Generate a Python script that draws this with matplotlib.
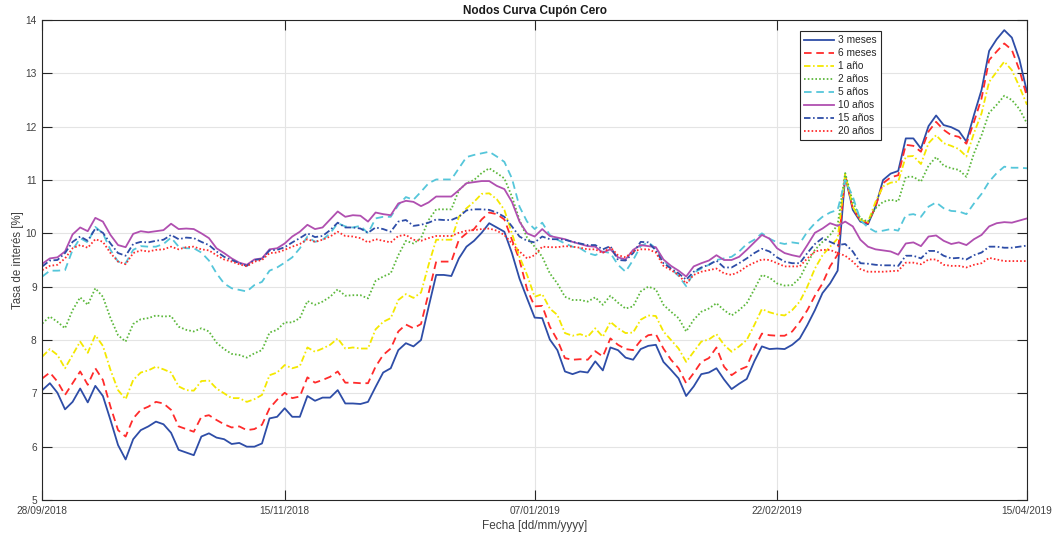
import numpy as np
import matplotlib
matplotlib.use("Agg")
import matplotlib.pyplot as plt

plt.rcParams['font.family'] = ['Liberation Sans', 'DejaVu Sans']

# Tick dates (observation index -> label)
tick_idx = [0, 32, 65, 97, 130]
tick_labels = ['28/09/2018', '15/11/2018', '07/01/2019', '22/02/2019', '15/04/2019']

# Zero-coupon curve nodes, daily observations [%]
m3 = [7.06, 7.19, 7.01, 6.70, 6.84, 7.09, 6.83, 7.14, 6.95, 6.50, 6.03, 5.76, 6.14, 6.31, 6.38, 6.47, 6.42,
      6.26, 5.94, 5.89, 5.84, 6.19, 6.25, 6.17, 6.14, 6.05, 6.07, 6.00, 6.00, 6.06, 6.53, 6.56, 6.72,
      6.56, 6.56, 6.95, 6.86, 6.92, 6.92, 7.06, 6.81, 6.81, 6.80, 6.84, 7.12, 7.39, 7.47, 7.81, 7.94,
      7.88, 8.00, 8.62, 9.22, 9.22, 9.20, 9.53, 9.75, 9.86, 10.01, 10.19, 10.11, 10.03, 9.63, 9.15, 8.78,
      8.42, 8.41, 8.01, 7.81, 7.41, 7.36, 7.41, 7.39, 7.60, 7.43, 7.86, 7.81, 7.67, 7.63, 7.83, 7.89,
      7.91, 7.59, 7.44, 7.28, 6.95, 7.13, 7.36, 7.39, 7.47, 7.26, 7.08, 7.18, 7.27, 7.60, 7.88, 7.83,
      7.84, 7.83, 7.91, 8.03, 8.28, 8.56, 8.88, 9.06, 9.30, 11.08, 10.44, 10.22, 10.17, 10.50, 11.00, 11.12,
      11.17, 11.78, 11.78, 11.59, 12.01, 12.21, 12.03, 11.99, 11.92, 11.72, 12.22, 12.69, 13.42, 13.64, 13.81, 13.67, 13.26, 12.65]

m6 = [7.28, 7.39, 7.22, 6.97, 7.19, 7.41, 7.16, 7.47, 7.25, 6.75, 6.31, 6.19, 6.53, 6.69, 6.75, 6.84, 6.81,
      6.69, 6.38, 6.33, 6.28, 6.56, 6.59, 6.50, 6.42, 6.36, 6.38, 6.31, 6.33, 6.41, 6.72, 6.88, 7.01,
      6.91, 6.94, 7.30, 7.20, 7.25, 7.31, 7.41, 7.20, 7.20, 7.19, 7.19, 7.50, 7.72, 7.84, 8.16, 8.29,
      8.22, 8.30, 8.88, 9.47, 9.47, 9.47, 9.88, 10.00, 10.08, 10.26, 10.39, 10.36, 10.26, 9.88, 9.50, 8.95,
      8.63, 8.64, 8.25, 8.00, 7.66, 7.63, 7.64, 7.63, 7.79, 7.69, 8.03, 7.91, 7.83, 7.81, 7.99, 8.09,
      8.11, 7.84, 7.63, 7.47, 7.19, 7.38, 7.59, 7.66, 7.86, 7.50, 7.34, 7.44, 7.50, 7.84, 8.12, 8.09,
      8.08, 8.08, 8.16, 8.34, 8.56, 8.83, 9.06, 9.38, 9.60, 11.09, 10.47, 10.25, 10.19, 10.50, 10.94, 11.05,
      11.09, 11.66, 11.64, 11.53, 11.91, 12.09, 11.94, 11.84, 11.81, 11.68, 12.09, 12.53, 13.25, 13.41, 13.56, 13.44, 13.06, 12.56]

y1 = [7.69, 7.83, 7.72, 7.47, 7.72, 7.97, 7.76, 8.09, 7.89, 7.44, 7.06, 6.89, 7.25, 7.39, 7.43, 7.50, 7.45,
      7.39, 7.13, 7.06, 7.05, 7.23, 7.24, 7.09, 7.00, 6.91, 6.91, 6.84, 6.89, 6.97, 7.34, 7.39, 7.53,
      7.47, 7.51, 7.86, 7.78, 7.84, 7.91, 8.03, 7.84, 7.86, 7.84, 7.84, 8.20, 8.34, 8.41, 8.75, 8.86,
      8.79, 8.89, 9.41, 9.88, 9.88, 9.88, 10.31, 10.47, 10.59, 10.74, 10.75, 10.64, 10.44, 10.00, 9.56, 9.22,
      8.81, 8.86, 8.59, 8.47, 8.13, 8.08, 8.11, 8.06, 8.22, 8.06, 8.34, 8.22, 8.13, 8.14, 8.38, 8.46,
      8.45, 8.16, 8.00, 7.84, 7.59, 7.78, 7.97, 8.01, 8.11, 7.91, 7.78, 7.88, 8.00, 8.28, 8.58, 8.52,
      8.48, 8.46, 8.56, 8.72, 9.00, 9.34, 9.59, 9.75, 9.90, 11.11, 10.50, 10.25, 10.21, 10.59, 10.88, 10.95,
      10.97, 11.44, 11.45, 11.30, 11.69, 11.84, 11.69, 11.64, 11.58, 11.44, 11.88, 12.25, 12.84, 13.03, 13.22, 13.06, 12.75, 12.41]

y2 = [8.31, 8.44, 8.34, 8.22, 8.56, 8.80, 8.66, 8.97, 8.81, 8.41, 8.09, 7.97, 8.30, 8.39, 8.41, 8.46, 8.44,
      8.45, 8.25, 8.19, 8.16, 8.22, 8.16, 7.95, 7.83, 7.74, 7.72, 7.67, 7.75, 7.81, 8.14, 8.19, 8.33,
      8.33, 8.41, 8.73, 8.66, 8.72, 8.81, 8.95, 8.83, 8.84, 8.84, 8.78, 9.11, 9.19, 9.25, 9.59, 9.86,
      9.81, 9.91, 10.25, 10.45, 10.45, 10.45, 10.81, 10.94, 11.00, 11.13, 11.22, 11.13, 11.03, 10.69, 10.25, 9.92,
      9.75, 9.56, 9.25, 9.06, 8.81, 8.75, 8.75, 8.72, 8.80, 8.66, 8.83, 8.70, 8.59, 8.63, 8.91, 9.00,
      8.95, 8.66, 8.53, 8.41, 8.16, 8.38, 8.53, 8.59, 8.69, 8.56, 8.46, 8.56, 8.69, 8.95, 9.22, 9.17,
      9.06, 9.02, 9.03, 9.16, 9.44, 9.69, 9.84, 9.97, 10.16, 11.13, 10.59, 10.28, 10.22, 10.47, 10.59, 10.63,
      10.60, 11.06, 11.06, 10.97, 11.27, 11.43, 11.27, 11.22, 11.19, 11.06, 11.50, 11.84, 12.26, 12.41, 12.58, 12.50, 12.33, 12.06]

y5 = [9.19, 9.30, 9.30, 9.31, 9.69, 9.91, 9.83, 10.12, 10.00, 9.69, 9.47, 9.44, 9.69, 9.76, 9.75, 9.75, 9.80,
      9.92, 9.75, 9.72, 9.72, 9.64, 9.49, 9.25, 9.06, 8.97, 8.94, 8.91, 9.03, 9.09, 9.30, 9.36, 9.45,
      9.55, 9.72, 9.94, 9.84, 9.88, 10.00, 10.19, 10.13, 10.11, 10.14, 10.00, 10.28, 10.31, 10.31, 10.53, 10.68,
      10.63, 10.78, 10.94, 11.01, 11.01, 11.01, 11.22, 11.43, 11.47, 11.50, 11.53, 11.44, 11.34, 11.03, 10.50, 10.22,
      10.08, 10.20, 9.97, 9.88, 9.81, 9.75, 9.72, 9.63, 9.59, 9.66, 9.63, 9.41, 9.28, 9.50, 9.76, 9.83,
      9.72, 9.50, 9.34, 9.20, 9.01, 9.26, 9.34, 9.41, 9.50, 9.53, 9.56, 9.66, 9.80, 9.88, 10.00, 9.90,
      9.83, 9.80, 9.83, 9.81, 10.03, 10.19, 10.31, 10.39, 10.44, 11.00, 10.69, 10.25, 10.11, 10.03, 10.05, 10.08,
      10.05, 10.34, 10.36, 10.31, 10.50, 10.58, 10.47, 10.42, 10.41, 10.36, 10.56, 10.74, 10.97, 11.13, 11.25, 11.23, 11.23, 11.22]

y10 = [9.43, 9.53, 9.55, 9.66, 9.98, 10.11, 10.04, 10.29, 10.22, 9.97, 9.78, 9.74, 9.99, 10.04, 10.02, 10.04, 10.06,
       10.18, 10.08, 10.09, 10.08, 10.00, 9.91, 9.72, 9.63, 9.53, 9.45, 9.41, 9.51, 9.53, 9.70, 9.72, 9.81,
       9.94, 10.03, 10.16, 10.08, 10.11, 10.26, 10.41, 10.31, 10.34, 10.33, 10.22, 10.39, 10.36, 10.34, 10.56, 10.61,
       10.59, 10.51, 10.58, 10.69, 10.69, 10.69, 10.81, 10.94, 10.96, 10.98, 10.98, 10.89, 10.83, 10.59, 10.22, 10.00,
       9.94, 10.08, 9.95, 9.92, 9.89, 9.84, 9.80, 9.76, 9.75, 9.64, 9.70, 9.55, 9.51, 9.69, 9.78, 9.76,
       9.74, 9.51, 9.39, 9.30, 9.19, 9.38, 9.44, 9.49, 9.59, 9.50, 9.50, 9.56, 9.69, 9.83, 9.97, 9.90,
       9.72, 9.63, 9.59, 9.56, 9.78, 10.01, 10.09, 10.19, 10.14, 10.22, 10.13, 9.88, 9.75, 9.70, 9.68, 9.66,
       9.60, 9.81, 9.83, 9.76, 9.94, 9.96, 9.86, 9.80, 9.83, 9.78, 9.89, 9.97, 10.13, 10.19, 10.21, 10.20, 10.24, 10.28]

y15 = [9.38, 9.49, 9.50, 9.63, 9.84, 9.94, 9.86, 10.09, 10.01, 9.81, 9.63, 9.58, 9.80, 9.84, 9.83, 9.86, 9.88,
       9.97, 9.89, 9.92, 9.91, 9.84, 9.78, 9.66, 9.56, 9.50, 9.44, 9.39, 9.50, 9.52, 9.68, 9.69, 9.74,
       9.83, 9.91, 10.00, 9.93, 9.95, 10.06, 10.20, 10.11, 10.11, 10.09, 10.01, 10.11, 10.08, 10.03, 10.22, 10.25,
       10.14, 10.16, 10.20, 10.26, 10.25, 10.25, 10.31, 10.43, 10.45, 10.45, 10.44, 10.39, 10.31, 10.13, 9.94, 9.86,
       9.83, 9.94, 9.89, 9.89, 9.88, 9.84, 9.81, 9.78, 9.78, 9.70, 9.76, 9.50, 9.49, 9.63, 9.84, 9.83,
       9.68, 9.44, 9.34, 9.25, 9.13, 9.28, 9.36, 9.41, 9.49, 9.36, 9.36, 9.44, 9.53, 9.63, 9.71, 9.66,
       9.55, 9.47, 9.44, 9.44, 9.63, 9.80, 9.91, 9.84, 9.78, 9.80, 9.66, 9.44, 9.43, 9.41, 9.40, 9.40,
       9.39, 9.58, 9.58, 9.53, 9.67, 9.67, 9.58, 9.53, 9.54, 9.51, 9.59, 9.64, 9.75, 9.75, 9.73, 9.73, 9.75, 9.77]

y20 = [9.31, 9.39, 9.41, 9.53, 9.72, 9.78, 9.73, 9.89, 9.84, 9.63, 9.47, 9.42, 9.63, 9.68, 9.66, 9.69, 9.70,
       9.75, 9.70, 9.74, 9.75, 9.70, 9.68, 9.59, 9.51, 9.47, 9.42, 9.38, 9.47, 9.50, 9.63, 9.64, 9.69,
       9.75, 9.80, 9.89, 9.84, 9.88, 9.94, 10.03, 9.95, 9.94, 9.91, 9.83, 9.89, 9.86, 9.83, 9.95, 9.97,
       9.88, 9.86, 9.91, 9.95, 9.95, 9.95, 10.01, 10.05, 10.06, 10.08, 10.09, 10.05, 9.97, 9.81, 9.66, 9.53,
       9.59, 9.75, 9.74, 9.74, 9.76, 9.75, 9.73, 9.70, 9.70, 9.63, 9.74, 9.59, 9.55, 9.66, 9.70, 9.70,
       9.64, 9.39, 9.31, 9.22, 9.06, 9.22, 9.28, 9.31, 9.34, 9.25, 9.22, 9.28, 9.38, 9.45, 9.51, 9.50,
       9.44, 9.38, 9.38, 9.38, 9.53, 9.66, 9.69, 9.69, 9.63, 9.58, 9.47, 9.33, 9.28, 9.28, 9.28, 9.29,
       9.30, 9.45, 9.45, 9.42, 9.51, 9.51, 9.41, 9.39, 9.39, 9.36, 9.41, 9.44, 9.54, 9.51, 9.48, 9.48, 9.48, 9.48]

series_labels = ['3 meses', '6 meses', '1 año', '2 años', '5 años', '10 años', '15 años', '20 años']
series_values = [m3, m6, y1, y2, y5, y10, y15, y20]

LW = 1.3
styles = [
    dict(color='#2E4DA7', linestyle='-'),
    dict(color='#FF2B2B', linestyle=(0, (4.2, 2.6))),
    dict(color='#F4E800', linestyle=(0, (3.6, 1.4, 0.9, 1.4))),
    dict(color='#5CB83C', linestyle=(0, (0.9, 1.2))),
    dict(color='#55C6DA', linestyle=(0, (4.2, 2.6))),
    dict(color='#B04FB0', linestyle='-'),
    dict(color='#2E4DA7', linestyle=(0, (3.6, 1.4, 0.9, 1.4))),
    dict(color='#FF2B2B', linestyle=(0, (0.9, 1.2))),
]

fig = plt.figure(figsize=(10.56, 5.38), dpi=100)
ax = fig.add_axes([42.3 / 1056, 38 / 538, (1027 - 42.3) / 1056, 480 / 538])

x = np.arange(len(m3))
for vals, lab, st in zip(series_values, series_labels, styles):
    ax.plot(x, vals, label=lab, linewidth=LW, **st)

ax.set_xlim(0, len(m3) - 1)
ax.set_ylim(5, 14)
ax.set_xticks(tick_idx)
ax.set_xticklabels(tick_labels)
ax.set_yticks(np.arange(5, 15, 1))

ax.grid(True, color='#E4E4E4', linewidth=0.8)
ax.set_axisbelow(True)
for sp in ax.spines.values():
    sp.set_color('#262626')
    sp.set_linewidth(0.8)
ax.tick_params(direction='in', length=7.2, width=0.8, color='#262626',
               labelcolor='#404040', labelsize=7.3, top=True, right=True, pad=4)

ax.set_title('Nodos Curva Cupón Cero', fontsize=8.5, fontweight='bold', color='#1a1a1a', pad=4)
ax.set_xlabel('Fecha [dd/mm/yyyy]', fontsize=8.5, color='#404040', labelpad=3)
ax.set_ylabel('Tasa de interés [%]', fontsize=8.3, color='#404040', labelpad=1)

leg = ax.legend(loc='upper left', bbox_to_anchor=(800 / 1056, 1 - 31 / 538),
                bbox_transform=fig.transFigure, fontsize=7.3, frameon=True,
                fancybox=False, framealpha=1, edgecolor='#262626',
                handlelength=3.0, handletextpad=0.35, labelspacing=0.3,
                borderpad=0.4, borderaxespad=0)
leg.get_frame().set_linewidth(0.8)
for t in leg.get_texts():
    t.set_color('#262626')

fig.savefig('out.png', dpi=100)
